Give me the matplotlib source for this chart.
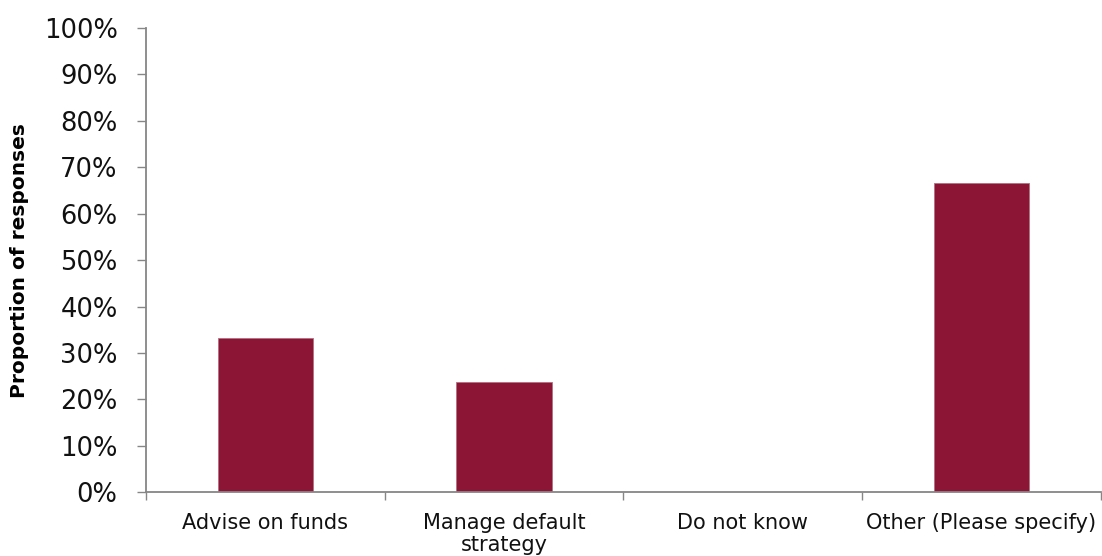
import matplotlib.pyplot as plt
import numpy as np
from matplotlib.ticker import FuncFormatter, MultipleLocator, FixedLocator

categories = ['Advise on funds', 'Manage default\nstrategy', 'Do not know',
              'Other (Please specify)']
shares = [33.3, 23.8, 0.0, 66.7]

bar_colour = '#8c1535'
axis_grey = '#868686'

fig = plt.figure(figsize=(11.02, 5.56), dpi=100)
ax = fig.add_axes([0.1325, 0.1146, 0.8665, 0.835])

x = np.arange(len(categories))
ax.bar(x, shares, width=0.4, color=bar_colour, edgecolor='#b07080', linewidth=0.6)

ax.set_xlim(-0.5, len(categories) - 0.5)
ax.set_ylim(0, 100)
ax.yaxis.set_major_locator(MultipleLocator(10))
ax.yaxis.set_major_formatter(FuncFormatter(lambda v, pos: f'{v:.0f}%'))

# category labels sit between the boundary ticks
ax.set_xticks(x)
ax.set_xticklabels(categories, fontsize=15, color='#111111', linespacing=1.12)
ax.xaxis.set_minor_locator(FixedLocator(np.append(x - 0.5, x[-1] + 0.5)))
ax.tick_params(axis='x', which='major', length=0, pad=15)
ax.tick_params(axis='x', which='minor', length=6, width=1, color=axis_grey, direction='out')
ax.tick_params(axis='y', length=6.5, width=1, color=axis_grey, direction='out',
               labelsize=18.5, labelcolor='#111111', pad=14)

for side in ('top', 'right'):
    ax.spines[side].set_visible(False)
for side in ('left', 'bottom'):
    ax.spines[side].set_color(axis_grey)
    ax.spines[side].set_linewidth(1.3)

ax.set_ylabel('Proportion of responses', fontsize=14.5, fontweight='bold')
ax.yaxis.set_label_coords(-0.123, 0.5)

fig.savefig('out.png', dpi=100)
